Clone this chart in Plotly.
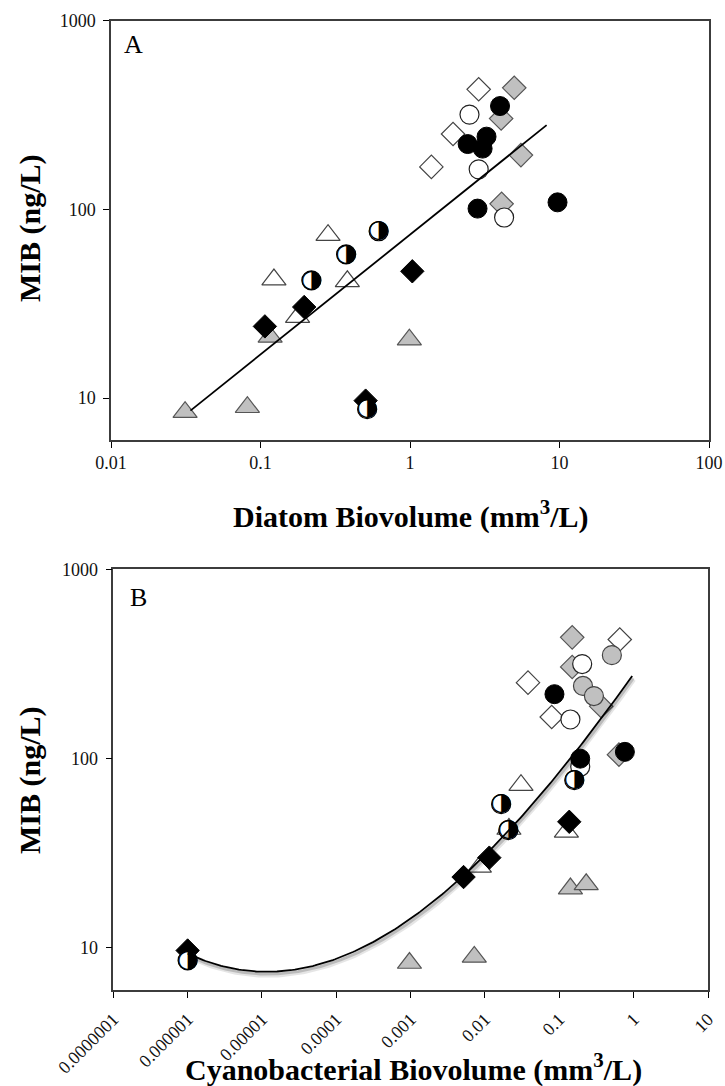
import numpy as np
import plotly.graph_objects as go

# ---------------- Panel A: MIB vs diatom biovolume ----------------
a_black_circle_x = [4.0, 2.43, 3.25, 3.06, 2.83, 9.7]
a_black_circle_y = [353, 222, 243, 210, 101, 109]
a_open_circle_x = [2.50, 2.88, 4.26]
a_open_circle_y = [318, 163, 90.6]
a_gray_diamond_x = [4.98, 4.07, 5.52, 4.10]
a_gray_diamond_y = [441, 303, 194, 107]
a_open_diamond_x = [2.88, 1.94, 1.39]
a_open_diamond_y = [433, 251, 168]
a_black_diamond_x = [1.036, 0.196, 0.107, 0.505]
a_black_diamond_y = [47, 30.4, 24.0, 9.7]
a_half_circle_x = [0.617, 0.374, 0.219, 0.517]
a_half_circle_y = [76.6, 57.8, 42.1, 8.74]
a_open_triangle_x = [0.283, 0.123, 0.381, 0.177]
a_open_triangle_y = [73, 42.5, 41.6, 26.9]
a_gray_triangle_x = [0.116, 0.99, 0.0313, 0.0817]
a_gray_triangle_y = [21.1, 20.4, 8.43, 8.95]

# power-law regression for panel A: MIB = coef * x ** exp
fit_a_coef = 73.5
fit_a_exp = 0.635
fit_a_xrange = [0.034, 8.2]

# ---------------- Panel B: MIB vs cyanobacterial biovolume ----------------
b_black_circle_x = [0.086, 0.762, 0.191]
b_black_circle_y = [219, 108.6, 100]
b_gray_circle_x = [0.509, 0.208, 0.292]
b_gray_circle_y = [352, 242, 214]
b_open_circle_x = [0.203, 0.141, 0.191]
b_open_circle_y = [316, 161, 90.6]
b_gray_diamond_x = [0.149, 0.149, 0.366, 0.634]
b_gray_diamond_y = [437, 305, 189, 105]
b_open_diamond_x = [0.65, 0.0379, 0.079]
b_open_diamond_y = [426, 252, 166]
b_black_diamond_x = [0.136, 0.01143, 0.00515, 1e-6]
b_black_diamond_y = [46.4, 30, 23.7, 9.7]
b_half_circle_x = [0.159, 0.0165, 0.0206, 1e-6]
b_half_circle_y = [77, 57.5, 41.9, 8.6]
b_open_triangle_x = [0.0305, 0.1245, 0.0084, 0.021]
b_open_triangle_y = [72.4, 41, 26.8, 42.5]
b_gray_triangle_x = [0.141, 0.23, 0.000964, 0.00718]
b_gray_triangle_y = [20.6, 21.7, 8.33, 8.97]

# polynomial trend for panel B, traced in log10 space
curve_b_logx = [-5.90, -4.79, -2.29, -1.69, -0.02]
curve_b_logy = [0.952, 0.878, 1.375, 1.622, 2.436]
curve_b_degree = 3

# axis ticks
a_xtick_vals = [0.01, 0.1, 1, 10, 100]
a_xtick_text = ["0.01", "0.1", "1", "10", "100"]
b_xtick_vals = [1e-7, 1e-6, 1e-5, 1e-4, 1e-3, 1e-2, 1e-1, 1, 10]
b_xtick_text = ["0.0000001", "0.000001", "0.00001", "0.0001", "0.001",
                "0.01", "0.1", "1", "10"]
ytick_vals = [10, 100, 1000]
ytick_text = ["10", "100", "1000"]
y_min = 6

SERIF = "Liberation Serif, Times New Roman, serif"
GRAY = "#c0c0c0"

STYLES = {
    "black_circle": dict(symbol="circle", size=19, color="black",
                         line=dict(color="black", width=1)),
    "gray_circle": dict(symbol="circle", size=19, color=GRAY,
                        line=dict(color="#444", width=1.2)),
    "open_circle": dict(symbol="circle", size=19, color="white",
                        line=dict(color="#222", width=1.2)),
    "gray_diamond": dict(symbol="diamond", size=18, color=GRAY,
                         line=dict(color="#555", width=1.2)),
    "open_diamond": dict(symbol="diamond", size=18, color="white",
                         line=dict(color="#444", width=1.2)),
    "black_diamond": dict(symbol="diamond", size=18, color="black",
                          line=dict(color="black", width=1)),
    "open_triangle": dict(symbol="triangle-up", size=21, color="white",
                          line=dict(color="#444", width=1.2)),
    "gray_triangle": dict(symbol="triangle-up", size=21, color=GRAY,
                          line=dict(color="#555", width=1.2)),
}

fig = go.Figure()


def add_markers(x, y, kind, xa, ya):
    fig.add_trace(go.Scatter(x=x, y=y, mode="markers", marker=STYLES[kind],
                             xaxis=xa, yaxis=ya, hoverinfo="x+y"))


def add_half_circles(x, y, xa, ya):
    # white disc with outline, then the right-half-black glyph on top
    fig.add_trace(go.Scatter(x=x, y=y, mode="markers",
                             marker=dict(symbol="circle", size=19, color="white",
                                         line=dict(color="black", width=1.2)),
                             xaxis=xa, yaxis=ya, hoverinfo="skip"))
    fig.add_trace(go.Scatter(x=x, y=y, mode="text", text=["\u25D1"] * len(x),
                             textposition="middle center",
                             textfont=dict(family="DejaVu Sans", size=25, color="black"),
                             xaxis=xa, yaxis=ya, hoverinfo="x+y"))


# Panel A markers
add_markers(a_gray_triangle_x, a_gray_triangle_y, "gray_triangle", "x", "y")
add_markers(a_open_triangle_x, a_open_triangle_y, "open_triangle", "x", "y")
add_markers(a_black_diamond_x, a_black_diamond_y, "black_diamond", "x", "y")
add_markers(a_open_diamond_x, a_open_diamond_y, "open_diamond", "x", "y")
add_markers(a_gray_diamond_x, a_gray_diamond_y, "gray_diamond", "x", "y")
add_markers(a_open_circle_x, a_open_circle_y, "open_circle", "x", "y")
add_markers(a_black_circle_x, a_black_circle_y, "black_circle", "x", "y")
add_half_circles(a_half_circle_x, a_half_circle_y, "x", "y")

# Panel A regression line
fx = np.logspace(np.log10(fit_a_xrange[0]), np.log10(fit_a_xrange[1]), 100)
fig.add_trace(go.Scatter(x=fx, y=fit_a_coef * fx ** fit_a_exp, mode="lines",
                         line=dict(color="black", width=1.8),
                         xaxis="x", yaxis="y", hoverinfo="skip"))

# Panel B markers
add_markers(b_gray_triangle_x, b_gray_triangle_y, "gray_triangle", "x2", "y2")
add_markers(b_open_triangle_x, b_open_triangle_y, "open_triangle", "x2", "y2")
add_markers(b_black_diamond_x, b_black_diamond_y, "black_diamond", "x2", "y2")
add_markers(b_open_diamond_x, b_open_diamond_y, "open_diamond", "x2", "y2")
add_markers(b_gray_diamond_x, b_gray_diamond_y, "gray_diamond", "x2", "y2")
add_markers(b_open_circle_x, b_open_circle_y, "open_circle", "x2", "y2")
add_markers(b_gray_circle_x, b_gray_circle_y, "gray_circle", "x2", "y2")
add_markers(b_black_circle_x, b_black_circle_y, "black_circle", "x2", "y2")
add_half_circles(b_half_circle_x, b_half_circle_y, "x2", "y2")

# Panel B polynomial trend with a soft drop shadow
coef_b = np.polyfit(curve_b_logx, curve_b_logy, curve_b_degree)
u = np.linspace(-6.0, curve_b_logx[-1], 200)
ly = np.polyval(coef_b, u)
for dx, dy, w, c in [(0.02, -0.018, 5, "rgba(0,0,0,0.10)"),
                     (0.015, -0.012, 3, "rgba(0,0,0,0.18)")]:
    fig.add_trace(go.Scatter(x=10 ** (u + dx), y=10 ** (ly + dy), mode="lines",
                             line=dict(color=c, width=w),
                             xaxis="x2", yaxis="y2", hoverinfo="skip"))
fig.add_trace(go.Scatter(x=10 ** u, y=10 ** ly, mode="lines",
                         line=dict(color="black", width=1.8),
                         xaxis="x2", yaxis="y2", hoverinfo="skip"))

W, H = 725, 1086
axis_common = dict(type="log", showline=True, mirror=True, linecolor="#3c3c3c",
                   linewidth=1.5, ticks="outside", ticklen=6, tickcolor="black",
                   tickwidth=1, showgrid=False, zeroline=False, automargin=False,
                   tickfont=dict(family=SERIF, size=18, color="#111"))

fig.update_layout(
    width=W, height=H, margin=dict(l=0, r=0, t=0, b=0, autoexpand=False),
    paper_bgcolor="white", plot_bgcolor="white", showlegend=False,
    xaxis=dict(axis_common, domain=[111 / W, 709 / W], range=[-2, 2],
               tickmode="array", tickvals=a_xtick_vals, ticktext=a_xtick_text,
               anchor="y"),
    yaxis=dict(axis_common, domain=[1 - 440 / H, 1 - 20.7 / H],
               range=[np.log10(y_min), 3], tickmode="array",
               tickvals=ytick_vals, ticktext=ytick_text, anchor="x",
               ticklabelstandoff=4),
    xaxis2=dict(axis_common, domain=[113.3 / W, 708 / W], range=[-7, 1],
                tickmode="array", tickvals=b_xtick_vals, ticktext=b_xtick_text,
                tickangle=-45, anchor="y2", ticklabelstandoff=4),
    yaxis2=dict(axis_common, domain=[1 - 990 / H, 1 - 569.3 / H],
                range=[np.log10(y_min), 3], tickmode="array",
                tickvals=ytick_vals, ticktext=ytick_text, anchor="x2",
                ticklabelstandoff=4),
)

title_font = dict(family=SERIF, size=30, color="black", weight="bold")
panel_font = dict(family=SERIF, size=26, color="black")
annotations = [
    dict(text="Diatom Biovolume (mm<sup>3</sup>/L)", x=411 / W, y=1 - 514 / H,
         font=title_font),
    dict(text="MIB (ng/L)", x=30 / W, y=1 - 228 / H, textangle=-90, font=title_font),
    dict(text="Cyanobacterial Biovolume (mm<sup>3</sup>/L)", x=413 / W,
         y=1 - 1067 / H, font=title_font),
    dict(text="MIB (ng/L)", x=30 / W, y=1 - 780 / H, textangle=-90, font=title_font),
    dict(text="A", x=133 / W, y=1 - 45 / H, font=panel_font),
    dict(text="B", x=138 / W, y=1 - 597 / H, font=panel_font),
]
for a in annotations:
    fig.add_annotation(xref="paper", yref="paper", showarrow=False,
                       xanchor="center", yanchor="middle", **a)

fig.write_html("out.html")
